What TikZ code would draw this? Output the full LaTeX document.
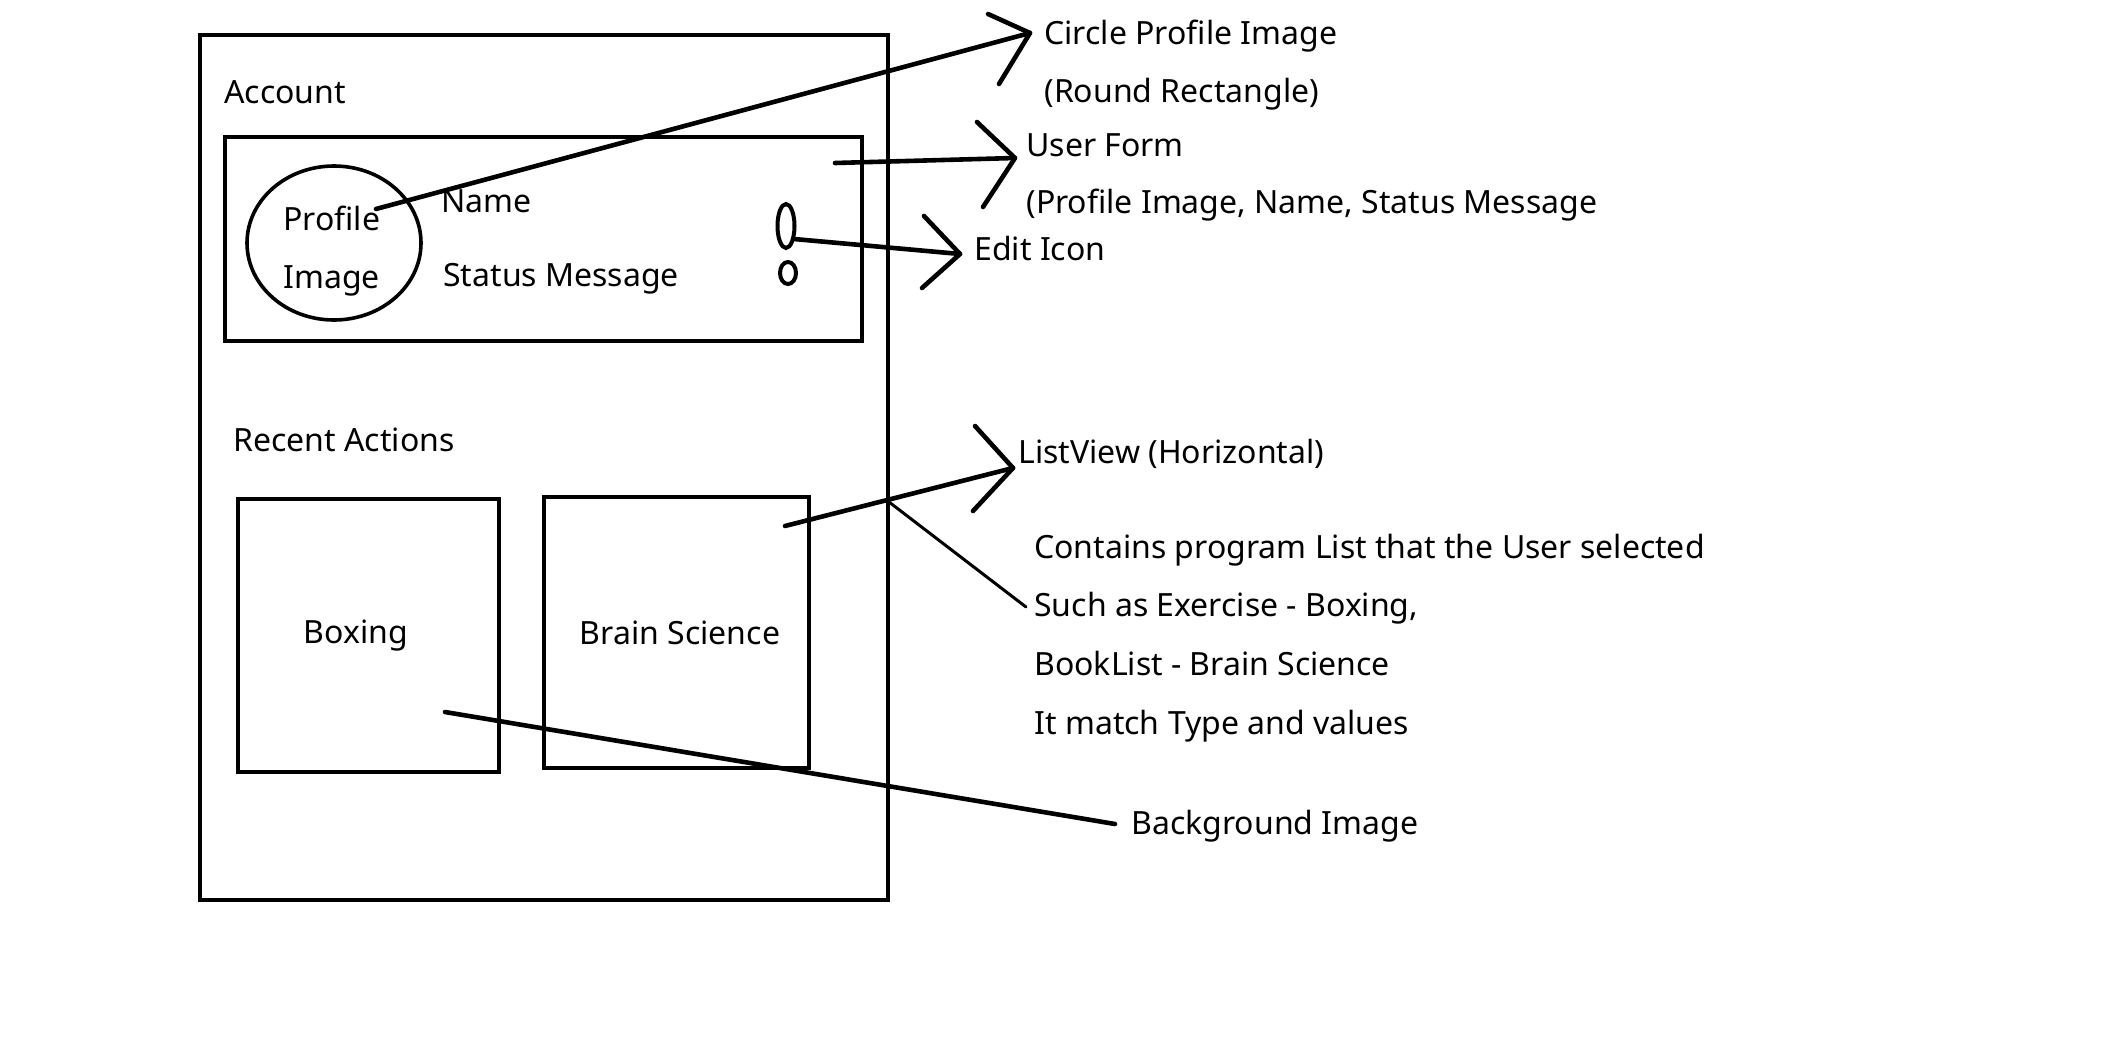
\documentclass[tikz,border=0pt]{standalone}
\usepackage{fontspec}
\setmainfont{Noto Sans}

\begin{document}
\begin{tikzpicture}[x=0.5pt,y=-0.5pt,
    txt/.style={anchor=base west, inner sep=0pt, font=\fontsize{16}{19}\selectfont},
    box/.style={draw, line width=2.3pt},
    pen/.style={line width=2.3pt, line cap=round, line join=round}]
  \useasboundingbox (0,0) rectangle (2104,1060);
  % phone frame
  \draw[box] (200,35) rectangle (888,900);
  \node[txt] (account) at (224,103) {Account};
  % user form
  \draw[box] (225,137) rectangle (862,341);
  \draw[line width=1.8pt] (334,243) ellipse [x radius=43.5pt, y radius=38.5pt];
  \node[txt] (profile) at (283,230) {Profile};
  \node[txt] (image) at (283,288) {Image};
  \node[txt] (name) at (441,212) {Name};
  \node[txt] (status) at (443,286) {Status Message};
  \draw[line width=2pt] (786,226) ellipse [x radius=4.25pt, y radius=11pt];
  \draw[line width=2pt] (788,273) ellipse [x radius=4pt, y radius=5.5pt];
  % recent actions
  \node[txt] (recent) at (233,451) {Recent Actions};
  \draw[box] (238,499) rectangle (499,772);
  \draw[box] (544,497) rectangle (809,768);
  \node[txt, anchor=base] (boxing) at (356,643) {Boxing};
  \node[txt, anchor=base] (brain) at (680,644) {Brain Science};
  % notes
  \node[txt] (circnote) at (1044,44) {Circle Profile Image};
  \node[txt] (roundnote) at (1044,102) {(Round Rectangle)};
  \node[txt] (formnote) at (1026,156) {User Form};
  \node[txt] (fieldnote) at (1026,213) {(Profile Image, Name, Status Message};
  \node[txt] (editnote) at (974,260) {Edit Icon};
  \node[txt] (listnote) at (1018,463) {ListView (Horizontal)};
  \foreach \t [count=\i from 0] in {Contains program List that the User selected,
      {Such as Exercise - Boxing,}, BookList - Brain Science, It match Type and values}
    \node[txt] (info\i) at (1034,558+58.7*\i) {\t};
  \node[txt] (bgnote) at (1131,834) {Background Image};
  % arrows
  \coordinate (profpt) at (376,209);
  \coordinate (circtip) at (1030,33);
  \draw[pen] (profpt) -- (circtip);
  \draw[pen] (circtip) ++(-42,-19) -- (circtip) -- ++(-31,51);
  \coordinate (formpt) at (835,163);
  \coordinate (formtip) at (1015,158);
  \draw[pen] (formpt) -- (formtip);
  \draw[pen] (formtip) ++(-38,-36) -- (formtip) -- ++(-32,49);
  \coordinate (editpt) at (794,239);
  \coordinate (edittip) at (960,254);
  \draw[pen] (editpt) -- (edittip);
  \draw[pen] (edittip) ++(-36,-38) -- (edittip) -- ++(-38,34);
  \coordinate (listpt) at (785,526);
  \coordinate (listtip) at (1013,468);
  \draw[pen] (listpt) -- (listtip);
  \draw[pen] (listtip) ++(-38,-42) -- (listtip) -- ++(-40,43);
  \coordinate (framept) at (889,502);
  \coordinate (infopt) at (1026,607);
  \draw[pen, line width=1.5pt] (framept) -- (infopt);
  \coordinate (boxpt) at (445,712);
  \coordinate (bgpt) at (1115,824);
  \draw[pen] (boxpt) -- (bgpt);
\end{tikzpicture}
\end{document}
